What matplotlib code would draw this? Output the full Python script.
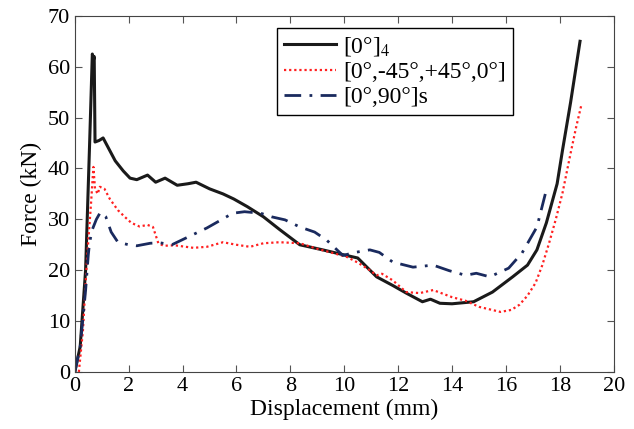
import numpy as np
import matplotlib.pyplot as plt

plt.rcParams['font.family'] = ['Liberation Serif', 'DejaVu Serif']
plt.rcParams['mathtext.fontset'] = 'stix'

# [0°]4
x_a = [0, 0.2, 0.4, 0.55, 0.65, 0.7, 0.72, 0.75, 0.9, 1.05, 1.2, 1.5, 1.8, 2.05, 2.3, 2.7, 3.0, 3.35, 3.8,
       4.2, 4.5, 5.0, 5.5, 5.9, 6.4, 7.0, 7.6, 8.35, 9.2, 10.0, 10.5, 11.2, 11.8, 12.3, 12.9, 13.2, 13.55,
       14.0, 14.4, 14.8, 15.5, 16.25, 16.8, 17.15, 17.5, 17.9, 18.1, 18.4, 18.75]
y_a = [0, 5, 20, 45, 62.5, 61.5, 62, 45.2, 45.5, 46, 44.5, 41.5, 39.5, 38.1, 37.8, 38.7, 37.3, 38.1, 36.7,
       37.0, 37.3, 36.0, 35.0, 34.0, 32.5, 30.5, 28.0, 25.0, 24.0, 23.0, 22.4, 18.7, 17.0, 15.5, 13.8, 14.3, 13.5,
       13.4, 13.6, 13.8, 15.7, 18.7, 21.0, 24.0, 29.3, 37.0, 43.6, 53.0, 65.0]

# [0°,-45°,+45°,0°]
x_b = [0.15, 0.3, 0.45, 0.6, 0.69, 0.75, 0.85, 0.93, 1.1, 1.3, 1.6, 1.85, 2.1, 2.4, 2.7, 2.9, 3.1, 3.3,
       3.7, 4.4, 4.9, 5.5, 6.0, 6.5, 7.0, 7.6, 8.35, 9.0, 9.5, 10.1, 10.5, 10.95, 11.2, 11.4, 11.8, 12.3,
       12.8, 13.3, 13.6, 14.0, 14.5, 15.0, 15.4, 15.8, 16.2, 16.5, 16.8, 17.1, 17.35, 17.6, 17.85, 18.1,
       18.4, 18.6, 18.8]
y_b = [0, 8, 22, 33, 40.3, 36.0, 35.0, 36.4, 36.0, 34.0, 31.8, 30.5, 29.3, 28.6, 28.9, 28.5, 25.3, 24.8,
       24.9, 24.4, 24.6, 25.5, 25.0, 24.6, 25.3, 25.5, 25.3, 24.2, 23.5, 22.6, 21.5, 20.0, 19.0, 19.3, 18.0, 15.7,
       15.5, 16.1, 15.5, 14.7, 14.0, 12.8, 12.3, 11.8, 12.2, 13.2, 15.0, 17.5, 21.0, 25.3, 30.0, 35.2,
       43.0, 48.0, 52.5]

# [0°,90°]s
x_c = [0, 0.2, 0.4, 0.5, 0.55, 0.65, 0.8, 0.95, 1.15, 1.35, 1.6, 2.0, 2.3, 2.8, 3.15, 3.6, 4.27, 4.9,
       5.4, 5.86, 6.3, 6.9, 7.3, 7.8, 8.35, 8.9, 9.35, 9.95, 10.4, 10.95, 11.3, 11.8, 12.55, 13.3, 13.9,
       14.5, 14.9, 15.4, 16.1, 16.6, 17.15, 17.5]
y_c = [0, 5, 16, 23, 25.5, 28, 30, 31.4, 30.5, 27.5, 25.5, 25.0, 24.8, 25.3, 25.4, 25.0, 26.7, 28.3,
       29.8, 31.2, 31.5, 31.2, 30.5, 29.9, 28.5, 27.5, 25.9, 22.9, 23.5, 24.0, 23.5, 21.6, 20.6, 21.0, 19.9,
       19.0, 19.4, 18.7, 20.4, 23.4, 28.5, 35.8]

fig = plt.figure(figsize=(6.34, 4.29), dpi=100)
ax = fig.add_axes([0.118, 0.133, 0.85, 0.83])

ax.plot(x_a, y_a, color='#1a1a1a', lw=2.2, label=r'[0°]$_4$')
ax.plot(x_b, y_b, color='#ff2020', lw=1.6, ls=(0, (1, 1.3)), label='[0°,-45°,+45°,0°]')
ax.plot(x_c, y_c, color='#1a2a5e', lw=2.0, ls=(0, (6, 3, 1, 3)), label='[0°,90°]s')

ax.set_xlim(0, 20)
ax.set_ylim(0, 70)
ax.set_xticks(np.arange(0, 21, 2))
ax.set_yticks(np.arange(0, 71, 10))
ax.tick_params(direction='in', top=True, right=True, labelsize=16, length=5, color='#555555')
for s in ax.spines.values():
    s.set_color('#444444')
ax.set_xlabel('Displacement (mm)', fontsize=17, labelpad=2)
ax.set_ylabel('Force (kN)', fontsize=17, labelpad=4)

leg = ax.legend(loc='upper left', bbox_to_anchor=(0.375, 0.966), fontsize=17, fancybox=False,
                edgecolor='black', framealpha=1, handlelength=2.2, borderaxespad=0,
                labelspacing=0.15, handletextpad=0.3, borderpad=0.3)
leg.get_frame().set_linewidth(1.0)

fig.savefig('out.png', dpi=100)
